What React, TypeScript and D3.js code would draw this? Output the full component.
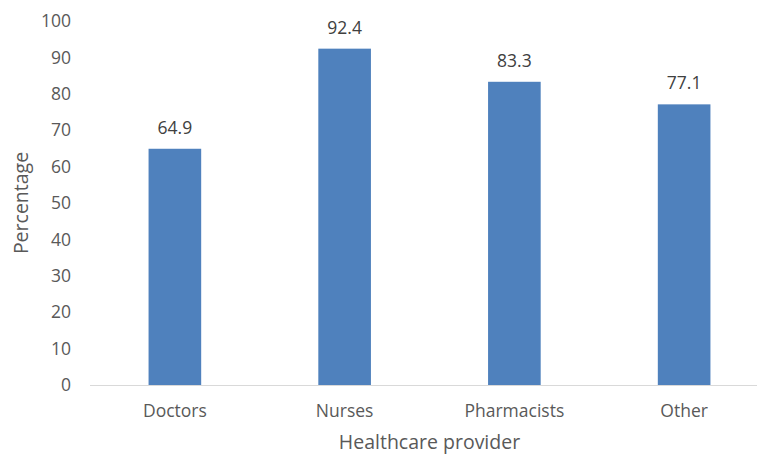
import React from "react";
import * as d3 from "d3";

const categories = ["Doctors", "Nurses", "Pharmacists", "Other"];
const values = [64.9, 92.4, 83.3, 77.1];
const yTicks = [0, 10, 20, 30, 40, 50, 60, 70, 80, 90, 100];
const xTitle = "Healthcare provider";
const yTitle = "Percentage";

const W = 757;
const H = 455;
const FONT = "'Open Sans', sans-serif";

export default function App() {
  const x = d3
    .scaleBand<string>()
    .domain(categories)
    .range([90, 769])
    .paddingInner(0.69)
    .paddingOuter(0.345);
  const y = d3.scaleLinear().domain([0, 100]).range([385, 21]);

  return (
    <svg
      width={W}
      height={H}
      style={{ position: "absolute", left: 0, top: 0, background: "#fff" }}
      fontFamily={FONT}
    >
      {yTicks.map((t) => (
        <text
          key={t}
          x={71}
          y={y(t)}
          dy="0.35em"
          textAnchor="end"
          fontSize={17.5}
          fill="#595959"
        >
          {t}
        </text>
      ))}
      {categories.map((c, i) => (
        <g key={c}>
          <rect
            x={x(c)}
            y={y(values[i])}
            width={x.bandwidth()}
            height={y(0) - y(values[i])}
            fill="#4F81BD"
          />
          <text
            x={(x(c) as number) + x.bandwidth() / 2}
            y={y(values[i]) - 15}
            textAnchor="middle"
            fontSize={17.5}
            fill="#404040"
          >
            {values[i].toFixed(1)}
          </text>
          <text
            x={(x(c) as number) + x.bandwidth() / 2}
            y={417}
            textAnchor="middle"
            fontSize={17.5}
            fill="#595959"
          >
            {c}
          </text>
        </g>
      ))}
      <line x1={90} x2={769} y1={y(0) + 0.5} y2={y(0) + 0.5} stroke="#D9D9D9" strokeWidth={1} />
      <text x={429.5} y={449} textAnchor="middle" fontSize={19.5} fill="#595959">
        {xTitle}
      </text>
      <text
        transform={`translate(27.5, 203) rotate(-90)`}
        textAnchor="middle"
        fontSize={19.5}
        fill="#595959"
      >
        {yTitle}
      </text>
    </svg>
  );
}
